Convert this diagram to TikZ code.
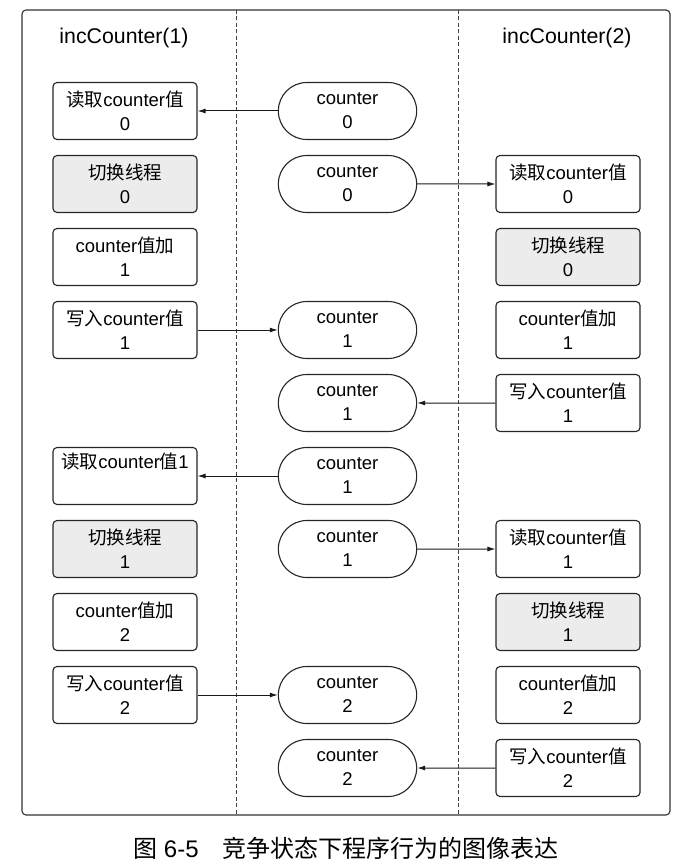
\documentclass[tikz,border=0pt]{standalone}
\usepackage{fontspec}
\setmainfont{Liberation Sans}
\newfontfamily\cjk{Noto Sans CJK SC}
\usetikzlibrary{arrows.meta,shapes.misc}
\newcommand{\zh}[1]{{\cjk #1}}

\tikzset{
  box/.style={draw=black!85, line width=1.1pt, rounded corners=4pt, fill=white,
    minimum width=144pt, minimum height=57pt, align=center,
    font=\fontsize{18.5}{24}\selectfont},
  switch/.style={box, fill=gray!15},
  mem/.style={draw=black!85, line width=1.1pt, rounded rectangle, fill=white,
    minimum width=145pt, minimum height=57pt, align=center,
    font=\fontsize{18.5}{24}\selectfont},
  link/.style={draw=black!90, line width=1pt, -{Latex[length=8pt,width=5pt]}},
}

\begin{document}
\begin{tikzpicture}[x=1pt, y=-1pt]
\useasboundingbox (0,0) rectangle (684,866);

% frame and lanes
\draw[black!80, line width=1.1pt, rounded corners=4pt] (22,10) rectangle (670,815);
\draw[black!75, line width=1pt, dash pattern=on 4pt off 2.5pt] (236,10) -- (236,815);
\draw[black!75, line width=1pt, dash pattern=on 4pt off 2.5pt] (458,10) -- (458,815);

\node[font=\fontsize{21.3}{26}\selectfont] (t1) at (124,38) {incCounter(1)};
\node[font=\fontsize{21.3}{26}\selectfont] (t2) at (567,38) {incCounter(2)};

% incCounter(1)
\node[box]    (l1) at (125,111) {\zh{读取}counter\zh{值}\\0};
\node[switch] (l2) at (125,184) {\zh{切换线程}\\0};
\node[box]    (l3) at (125,257) {counter\zh{值加}\\1};
\node[box]    (l4) at (125,330) {\zh{写入}counter\zh{值}\\1};
\node[box]    (l6) at (125,476) {\zh{读取}counter\zh{值}1\\\strut};
\node[switch] (l7) at (125,549) {\zh{切换线程}\\1};
\node[box]    (l8) at (125,622) {counter\zh{值加}\\2};
\node[box]    (l9) at (125,695) {\zh{写入}counter\zh{值}\\2};

% shared counter
\node[mem] (m1)  at (347.5,111) {counter\\0};
\node[mem] (m2)  at (347.5,184) {counter\\0};
\node[mem] (m4)  at (347.5,330) {counter\\1};
\node[mem] (m5)  at (347.5,403) {counter\\1};
\node[mem] (m6)  at (347.5,476) {counter\\1};
\node[mem] (m7)  at (347.5,549) {counter\\1};
\node[mem] (m9)  at (347.5,695) {counter\\2};
\node[mem] (m10) at (347.5,768) {counter\\2};

% incCounter(2)
\node[box]    (r2)  at (568,184) {\zh{读取}counter\zh{值}\\0};
\node[switch] (r3)  at (568,257) {\zh{切换线程}\\0};
\node[box]    (r4)  at (568,330) {counter\zh{值加}\\1};
\node[box]    (r5)  at (568,403) {\zh{写入}counter\zh{值}\\1};
\node[box]    (r7)  at (568,549) {\zh{读取}counter\zh{值}\\1};
\node[switch] (r8)  at (568,622) {\zh{切换线程}\\1};
\node[box]    (r9)  at (568,695) {counter\zh{值加}\\2};
\node[box]    (r10) at (568,768) {\zh{写入}counter\zh{值}\\2};

\draw[link] (m1) -- (l1);
\draw[link] (m2) -- (r2);
\draw[link] (l4) -- (m4);
\draw[link] (r5) -- (m5);
\draw[link] (m6) -- (l6);
\draw[link] (m7) -- (r7);
\draw[link] (l9) -- (m9);
\draw[link] (r10) -- (m10);

\node[font=\fontsize{24}{28}\selectfont] (cap) at (346,848)
  {\zh{图} 6-5\quad\zh{竞争状态下程序行为的图像表达}};
\end{tikzpicture}
\end{document}
